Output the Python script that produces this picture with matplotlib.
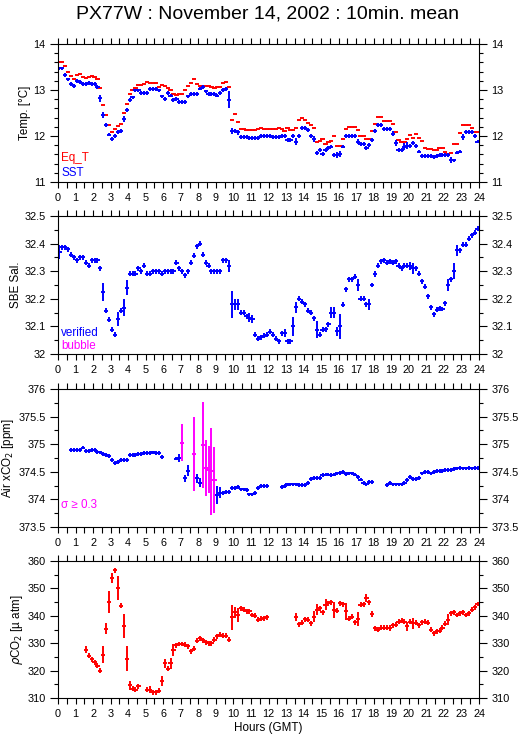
import matplotlib
matplotlib.use('Agg')
import matplotlib.pyplot as plt
import numpy as np
from matplotlib.ticker import MultipleLocator, FuncFormatter

plt.rcParams['font.family'] = ['Liberation Sans', 'DejaVu Sans']

nan = np.nan
# 10 minute means, centre of each bin in hours (GMT)
hours = np.arange(144) / 6 + 1 / 12
half_bin = 0.12

# Eq_T [deg C], one row per hour
eq_t = [13.60, 13.60, 13.52, 13.39, 13.30, 13.24,
        13.33, 13.34, 13.29, 13.26, 13.28, 13.31,
        13.29, 13.23, 13.04, 12.68, 12.45, 12.24,
        12.09, 12.15, 12.21, 12.26, 12.50, 12.69,
        12.91, 13.00, 13.05, 13.11, 13.11, 13.13,
        13.18, 13.16, 13.15, 13.15, 13.06, 13.10,
        13.09, 13.04, 12.99, 12.91, 12.89, 12.92,
        12.92, 13.00, 13.09, 13.16, 13.23, 13.13,
        13.09, 13.09, 13.09, 13.09, 13.06, 13.04,
        13.06, 13.06, 13.16, 13.17, 13.06, 12.35,
        12.47, 12.31, 12.16, 12.16, 12.13, 12.13,
        12.13, 12.13, 12.15, 12.18, 12.16, 12.15,
        12.15, 12.15, 12.15, 12.17, 12.16, 12.11,
        12.17, 12.14, 12.14, 12.17, 12.35, 12.39,
        12.34, 12.29, 12.24, 12.17, 11.86, 11.89,
        11.94, 11.82, 11.86, 11.89, 12.00, 11.79,
        11.78, 11.94, 12.15, 12.19, 12.19, 12.19,
        12.13, 12.01, 11.99, 11.94, 11.94, 12.10,
        12.26, 12.41, 12.41, 12.32, 12.32, 12.32,
        12.26, 12.08, 11.92, 11.86, 11.86, 11.94,
        12.03, 11.95, 12.05, 11.96, 11.89, 11.73,
        11.72, 11.72, 11.70, 11.70, 11.75, 11.75,
        11.66, 11.61, 11.63, 11.82, 11.82, 12.07,
        12.25, 12.25, 12.25, 12.17, 12.08, 12.08]

# SST [deg C]
sst = [13.47, 13.47, 13.33, 13.23, 13.13, 13.09,
       13.19, 13.17, 13.13, 13.13, 13.15, 13.13,
       13.13, 13.06, 12.82, 12.46, 12.24, 12.03,
       11.93, 12.00, 12.08, 12.11, 12.37, 12.57,
       12.79, 12.84, 12.99, 12.99, 12.93, 12.93,
       12.93, 13.02, 13.02, 13.02, 12.99, 12.86,
       12.81, 12.94, 12.88, 12.79, 12.81, 12.74,
       12.74, 12.74, 12.86, 12.92, 12.92, 12.92,
       13.03, 13.06, 12.97, 12.91, 12.91, 12.91,
       12.88, 12.93, 13.00, 13.02, 12.79, 12.11,
       12.11, 12.08, 11.98, 11.98, 11.98, 11.96,
       11.96, 11.96, 11.96, 12.00, 12.00, 12.00,
       12.00, 11.98, 11.98, 11.98, 12.00, 12.00,
       11.92, 11.92, 12.00, 11.88, 12.00, 12.17,
       12.17, 12.13, 12.00, 11.93, 11.63, 11.69,
       11.61, 11.69, 11.74, 11.77, 11.59, 11.59,
       11.61, 11.77, 12.00, 12.00, 12.00, 12.00,
       11.88, 11.82, 11.82, 11.74, 11.81, 11.92,
       12.11, 12.24, 12.24, 12.15, 12.15, 12.15,
       12.05, 11.85, 11.69, 11.69, 11.77, 11.79,
       11.79, 11.85, 11.79, 11.66, 11.56, 11.56,
       11.56, 11.56, 11.54, 11.56, 11.59, 11.59,
       11.59, 11.59, 11.48, 11.47, 11.64, 11.66,
       11.98, 12.08, 12.08, 12.08, 12.00, 11.88]
sst_sd = 0.04
sst_big_t = [0.42, 2.42, 2.58, 3.75, 9.75, 9.92, 10.25, 11.25, 13.58, 14.58,
             15.92, 16.08, 17.08, 17.58, 19.08, 19.25, 19.75, 19.92, 22.42, 23.08]
sst_big_sd = [0.05, 0.07, 0.06, 0.06, 0.19, 0.06, 0.06, 0.05, 0.07, 0.06,
              0.07, 0.07, 0.06, 0.05, 0.05, 0.06, 0.08, 0.07, 0.07, 0.06]

# SBE salinity
sal = [32.370, 32.386, 32.386, 32.380, 32.360, 32.350,
       32.340, 32.350, 32.350, 32.330, 32.320, 32.340,
       32.340, 32.340, 32.310, 32.226, 32.156, 32.124,
       32.088, 32.070, 32.127, 32.156, 32.168, 32.240,
       32.290, 32.290, 32.290, 32.310, 32.300, 32.320,
       32.290, 32.290, 32.300, 32.300, 32.300, 32.290,
       32.300, 32.300, 32.300, 32.300, 32.330, 32.310,
       32.300, 32.286, 32.300, 32.330, 32.356, 32.390,
       32.400, 32.360, 32.330, 32.320, 32.300, 32.300,
       32.300, 32.300, 32.340, 32.340, 32.320, 32.180,
       32.180, 32.180, 32.150, 32.150, 32.136, 32.132,
       32.127, 32.070, 32.055, 32.060, 32.066, 32.070,
       32.080, 32.070, 32.055, 32.047, 32.076, 32.076,
       32.047, 32.047, 32.100, 32.170, 32.200, 32.190,
       32.180, 32.156, 32.150, 32.130, 32.088, 32.070,
       32.088, 32.090, 32.108, 32.150, 32.150, 32.082,
       32.100, 32.178, 32.234, 32.270, 32.270, 32.280,
       32.250, 32.200, 32.200, 32.180, 32.180, 32.250,
       32.290, 32.320, 32.336, 32.340, 32.330, 32.336,
       32.330, 32.336, 32.320, 32.310, 32.320, 32.320,
       32.320, 32.310, 32.310, 32.290, 32.264, 32.244,
       32.210, 32.170, 32.144, 32.160, 32.166, 32.163,
       32.184, 32.250, 32.270, 32.300, 32.376, 32.376,
       32.396, 32.396, 32.418, 32.430, 32.440, 32.454]
sal_sd = 0.009
sal_big_t = [0.08, 2.58, 3.42, 3.75, 3.92, 9.75, 9.92, 10.08, 10.25, 10.92,
             11.08, 12.92, 13.42, 13.58, 14.75, 15.58, 15.75, 15.92, 16.08,
             17.08, 17.75, 18.08, 20.08, 20.25, 22.25, 22.58, 22.75]
sal_big_sd = [0.024, 0.033, 0.025, 0.030, 0.027, 0.022, 0.048, 0.020, 0.020,
              0.015, 0.015, 0.015, 0.035, 0.020, 0.030, 0.020, 0.020, 0.015,
              0.045, 0.020, 0.020, 0.012, 0.015, 0.020, 0.020, 0.030, 0.020]

# Air xCO2 [ppm]
air = [nan, nan, nan, nan, 374.89, 374.89,
       374.89, 374.89, 374.94, 374.87, 374.87, 374.89,
       374.89, 374.86, 374.85, 374.83, 374.81, 374.78,
       374.71, 374.66, 374.68, 374.71, 374.71, 374.72,
       374.80, 374.80, 374.81, 374.82, 374.83, 374.84,
       374.84, 374.84, 374.85, 374.84, 374.84, 374.77,
       nan, nan, nan, nan, 374.74, 374.75,
       375.03, 374.38, 374.52, nan, 374.83, 374.38,
       374.30, 374.98, 374.57, 374.54, 374.51, 374.35,
       374.08, 374.12, 374.12, 374.14, 374.14, 374.20,
       374.21, 374.23, 374.18, 374.18, 374.17, 374.09,
       374.09, 374.12, 374.20, 374.24, 374.24, 374.24,
       nan, nan, nan, nan, 374.22, 374.24,
       374.27, 374.27, 374.27, 374.27, 374.26, 374.26,
       374.26, 374.30, 374.37, 374.39, 374.38, 374.39,
       374.44, 374.45, 374.45, 374.44, 374.45, 374.47,
       374.48, 374.49, 374.46, 374.47, 374.47, 374.45,
       374.41, 374.36, 374.29, 374.27, 374.32, 374.32,
       nan, nan, nan, nan, 374.26, 374.29,
       374.27, 374.27, 374.27, 374.27, 374.30, 374.35,
       374.41, 374.37, 374.37, 374.38, 374.47, 374.49,
       374.49, 374.47, 374.49, 374.51, 374.51, 374.51,
       374.53, 374.53, 374.54, 374.55, 374.56, 374.57,
       374.56, 374.56, 374.57, 374.56, 374.57, 374.57]
air_sd = 0.035
air_big_t = [6.92, 7.08, 7.25, 7.42, 7.75, 7.92, 8.08, 8.25, 8.42, 8.58,
             8.75, 8.92, 9.08, 9.25]
air_big_sd = [0.07, 0.34, 0.07, 0.10, 0.67, 0.08, 0.08, 0.78, 0.50, 0.43,
              0.79, 0.60, 0.17, 0.10]
sigma_limit = 0.3

# pCO2 [uatm]
pco2 = [nan, nan, nan, nan, nan, nan,
        nan, nan, nan, 327.6, 325.5, 324.2,
        323.1, 321.8, 320.0, 325.8, 335.2, 344.9,
        353.9, 356.7, 350.0, 343.7, 336.3, 324.3,
        314.6, 313.4, 313.0, 314.2, nan, nan,
        313.0, 313.0, 312.1, 312.1, 312.7, 316.3,
        322.7, 320.7, 322.7, 327.4, 329.2, 329.7,
        329.7, 329.4, 328.8, 327.0, 328.0, 330.9,
        331.8, 331.1, 330.4, 330.0, 330.0, 331.2,
        332.5, 333.1, 332.8, 332.8, 331.2, 339.5,
        341.3, 340.3, 342.8, 342.2, 341.6, 341.6,
        340.3, 340.1, 338.5, 338.9, 339.1, 339.5,
        nan, nan, nan, nan, nan, nan,
        nan, nan, nan, 339.5, 336.9, 337.5,
        338.8, 338.5, 337.3, 339.7, 342.2, 342.8,
        341.3, 344.0, 344.6, 344.9, 342.2, 341.8,
        344.6, 344.2, 341.6, 338.9, 339.7, 337.7,
        338.9, 344.0, 344.2, 346.4, 344.9, 340.6,
        335.5, 334.9, 335.7, 335.7, 335.7, 335.5,
        336.5, 336.7, 337.9, 338.2, 337.9, 336.1,
        337.9, 337.3, 337.5, 336.5, 337.7, 337.9,
        337.5, 334.9, 333.7, 334.3, 334.5, 335.7,
        337.1, 338.5, 340.9, 341.3, 340.3, 340.9,
        341.3, 340.3, 340.9, 342.2, 343.1, 344.3]
pco2_sd = 0.9
pco2_big_t = [1.58, 2.58, 2.75, 2.92, 3.08, 3.42, 3.75, 3.92, 4.08, 5.25,
              5.92, 6.08, 6.42, 6.58, 9.92, 10.08, 10.25, 13.58, 14.58, 14.75,
              15.25, 15.75, 16.42, 17.08, 17.58, 17.92, 18.92, 19.92, 20.25, 22.25]
pco2_big_sd = [1.2, 3.0, 2.0, 4.0, 1.8, 4.4, 4.5, 4.5, 1.5, 1.2,
               1.8, 1.6, 2.0, 2.2, 4.5, 2.0, 2.5, 1.5, 2.0, 2.0,
               2.0, 3.0, 3.0, 2.5, 1.5, 1.2, 1.2, 1.5, 2.0, 2.0]


def spread(base, times, values):
    sd = np.full(len(hours), base)
    idx = np.rint((np.array(times) - 1 / 12) * 6).astype(int)
    sd[idx] = values
    return sd


def fmt(v, pos):
    return '%g' % round(v, 3)


def style(ax, ylo, yhi, major, minor):
    ax.set_xlim(0, 24)
    ax.set_ylim(ylo, yhi)
    ax.xaxis.set_major_locator(MultipleLocator(1))
    ax.xaxis.set_minor_locator(MultipleLocator(0.5))
    ax.yaxis.set_major_locator(MultipleLocator(major))
    ax.yaxis.set_minor_locator(MultipleLocator(minor))
    ax.yaxis.set_major_formatter(FuncFormatter(fmt))
    ax.tick_params(which='both', direction='out', top=True, right=True,
                   labelright=True, labelsize=7.8, width=0.8, colors='black')
    ax.tick_params(axis='x', which='both', length=4, pad=4)
    ax.tick_params(axis='y', which='major', length=6, pad=3)
    ax.tick_params(axis='y', which='minor', length=3)
    for s in ax.spines.values():
        s.set_linewidth(0.8)


fig = plt.figure(figsize=(5.29, 7.39), dpi=100)
W, H = 529, 739
boxes = [(44, 182), (216, 354), (389, 527), (561, 698)]
axes = []
for top, bot in boxes:
    axes.append(fig.add_axes([58 / W, 1 - bot / H, 421 / W, (bot - top) / H]))

ew = 1.4
lab_fs = 8.4
# Temperature
ax = axes[0]
ax.errorbar(hours, eq_t, xerr=half_bin, fmt='none', ecolor='#ff0000', elinewidth=ew)
ax.errorbar(hours, sst, xerr=half_bin, yerr=spread(sst_sd, sst_big_t, sst_big_sd),
            fmt='none', ecolor='#0000ff', elinewidth=ew)
style(ax, 11, 14, 1, 0.2)
ax.text(0.008, 0.15, 'Eq_T', color='#ff0000', fontsize=lab_fs, transform=ax.transAxes)
ax.text(0.008, 0.04, 'SST', color='#0000ff', fontsize=lab_fs, transform=ax.transAxes)

# Salinity
ax = axes[1]
ax.errorbar(hours, sal, xerr=half_bin, yerr=spread(sal_sd, sal_big_t, sal_big_sd),
            fmt='none', ecolor='#0000ff', elinewidth=ew)
style(ax, 32, 32.5, 0.1, 0.05)
ax.text(0.008, 0.13, 'verified', color='#0000ff', fontsize=lab_fs, transform=ax.transAxes)
ax.text(0.008, 0.035, 'bubble', color='#ff00ff', fontsize=lab_fs, transform=ax.transAxes)

# Air xCO2
ax = axes[2]
air_a = np.array(air)
air_e = spread(air_sd, air_big_t, air_big_sd)
hi = air_e >= sigma_limit
ax.errorbar(hours[~hi], air_a[~hi], xerr=half_bin, yerr=air_e[~hi],
            fmt='none', ecolor='#0000ff', elinewidth=ew)
ax.errorbar(hours[hi], air_a[hi], xerr=half_bin, yerr=air_e[hi],
            fmt='none', ecolor='#ff00ff', elinewidth=ew)
style(ax, 373.5, 376, 0.5, 0.25)
ax.text(0.008, 0.14, '\u03c3 \u2265 0.3', color='#ff00ff', fontsize=lab_fs,
        transform=ax.transAxes)

# pCO2
ax = axes[3]
ax.errorbar(hours, pco2, xerr=half_bin, yerr=spread(pco2_sd, pco2_big_t, pco2_big_sd),
            fmt='none', ecolor='#ff0000', elinewidth=ew)
style(ax, 310, 360, 10, 5)
ax.set_xlabel('Hours (GMT)', fontsize=lab_fs, labelpad=2)

ylabels = ['Temp. [\u00b0C]', 'SBE Sal.', 'Air xCO$_2$ [ppm]', '$\\rho$CO$_2$ [\u00b5 atm]']
for ax, lab in zip(axes, ylabels):
    ax.set_ylabel(lab, fontsize=lab_fs, labelpad=1.5)

fig.text(268 / W, 1 - 14 / H, 'PX77W : November 14, 2002 : 10min. mean',
         ha='center', va='center', fontsize=14)

fig.savefig('out.png', dpi=100)
